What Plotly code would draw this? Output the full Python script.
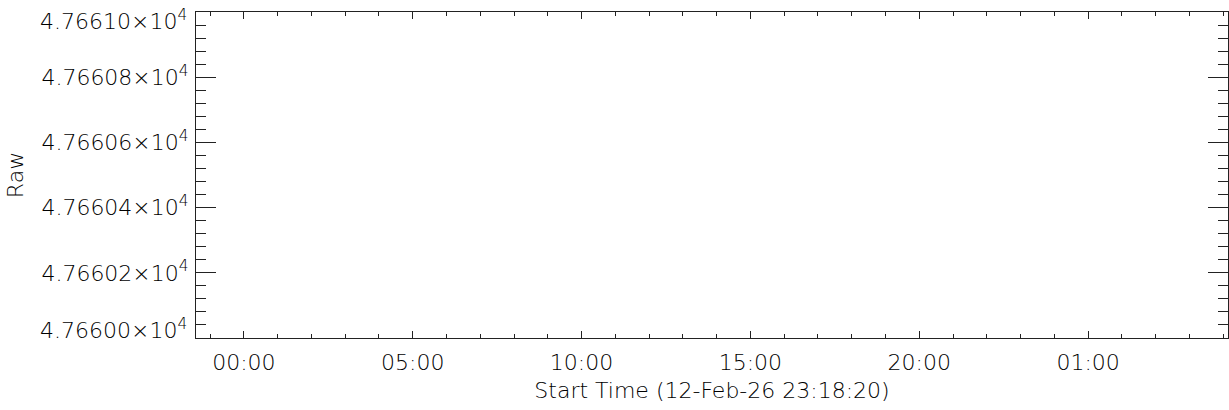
import plotly.graph_objects as go

# ---- data (the reference shows an empty panel: no samples fall in view) ----
times = []          # sample timestamps
raw_values = []     # Raw counts

# axis definition
x_range = ["2026-02-12 22:35:00", "2026-02-14 05:08:30"]
x_tick_vals = ["2026-02-13 00:00", "2026-02-13 05:00", "2026-02-13 10:00",
               "2026-02-13 15:00", "2026-02-13 20:00", "2026-02-14 01:00"]
x_tick_text = ["00:00", "05:00", "10:00", "15:00", "20:00", "01:00"]

y_range = [47660.0, 47661.0]
y_tick_vals = [47660.0, 47660.2, 47660.4, 47660.6, 47660.8, 47661.0]
y_tick_text = ["4.76600", "4.76602", "4.76604", "4.76606", "4.76608", "4.76610"]

x_title = "Start Time (12-Feb-26 23:18:20)"
y_title = "Raw"

INK = "#222222"
TXT = "#000000"
FONT = dict(family="DejaVu Sans, sans-serif", size=22, color=TXT, weight=300)


def sci(t):
    return t + "×10<sup>4</sup>"


# IDL keeps the end labels inside the box: first/last are drawn as annotations
axis_text = [sci(t) for t in y_tick_text]
axis_text[0] = ""
axis_text[-1] = ""

fig = go.Figure()
fig.add_trace(go.Scatter(x=times, y=raw_values, mode="lines",
                         line=dict(color=INK, width=1), showlegend=False))

fig.update_layout(
    width=1229, height=410,
    margin=dict(l=196, r=1, t=12, b=72, autoexpand=False),
    paper_bgcolor="white", plot_bgcolor="white",
    font=FONT, showlegend=False,
)

fig.update_xaxes(
    type="date", range=x_range, automargin=False,
    tickmode="array", tickvals=x_tick_vals, ticktext=x_tick_text,
    ticks="inside", ticklen=7, tickwidth=1, tickcolor=INK,
    showline=True, linecolor=INK, linewidth=1, mirror="allticks",
    showgrid=False, zeroline=False,
    minor=dict(ticks="inside", ticklen=4, tickcolor=INK, tickwidth=1,
               dtick=3600000, tick0="2026-02-13 00:00", showgrid=False),
    title=dict(text=x_title, font=FONT, standoff=8),
    ticklabelstandoff=5, ticklabeloverflow="allow",
    tickfont=FONT,
)

fig.update_yaxes(
    range=y_range, automargin=False,
    tickmode="array", tickvals=y_tick_vals, ticktext=axis_text,
    ticks="inside", ticklen=20, tickwidth=1, tickcolor=INK,
    showline=True, linecolor=INK, linewidth=1, mirror="allticks",
    showgrid=False, zeroline=False,
    minor=dict(ticks="inside", ticklen=10, tickcolor=INK, tickwidth=1,
               dtick=0.04, tick0=47660.0, showgrid=False),
    title=dict(text=y_title, font=FONT, standoff=11),
    ticklabelstandoff=2, ticklabeloverflow="allow",
    tickfont=FONT,
)

# end labels, nudged inward as in the reference
for val, txt, shift in [(y_tick_vals[0], y_tick_text[0], 9),
                        (y_tick_vals[-1], y_tick_text[-1], -8)]:
    fig.add_annotation(x=0, xref="paper", y=val, yref="y",
                       text=sci(txt), showarrow=False, font=FONT,
                       xanchor="right", yanchor="middle",
                       xshift=-7, yshift=shift)

fig.write_html(
    "out.html",
    config={"displayModeBar": False},
    post_script="document.body.style.margin='0';document.body.style.padding='0';",
)
